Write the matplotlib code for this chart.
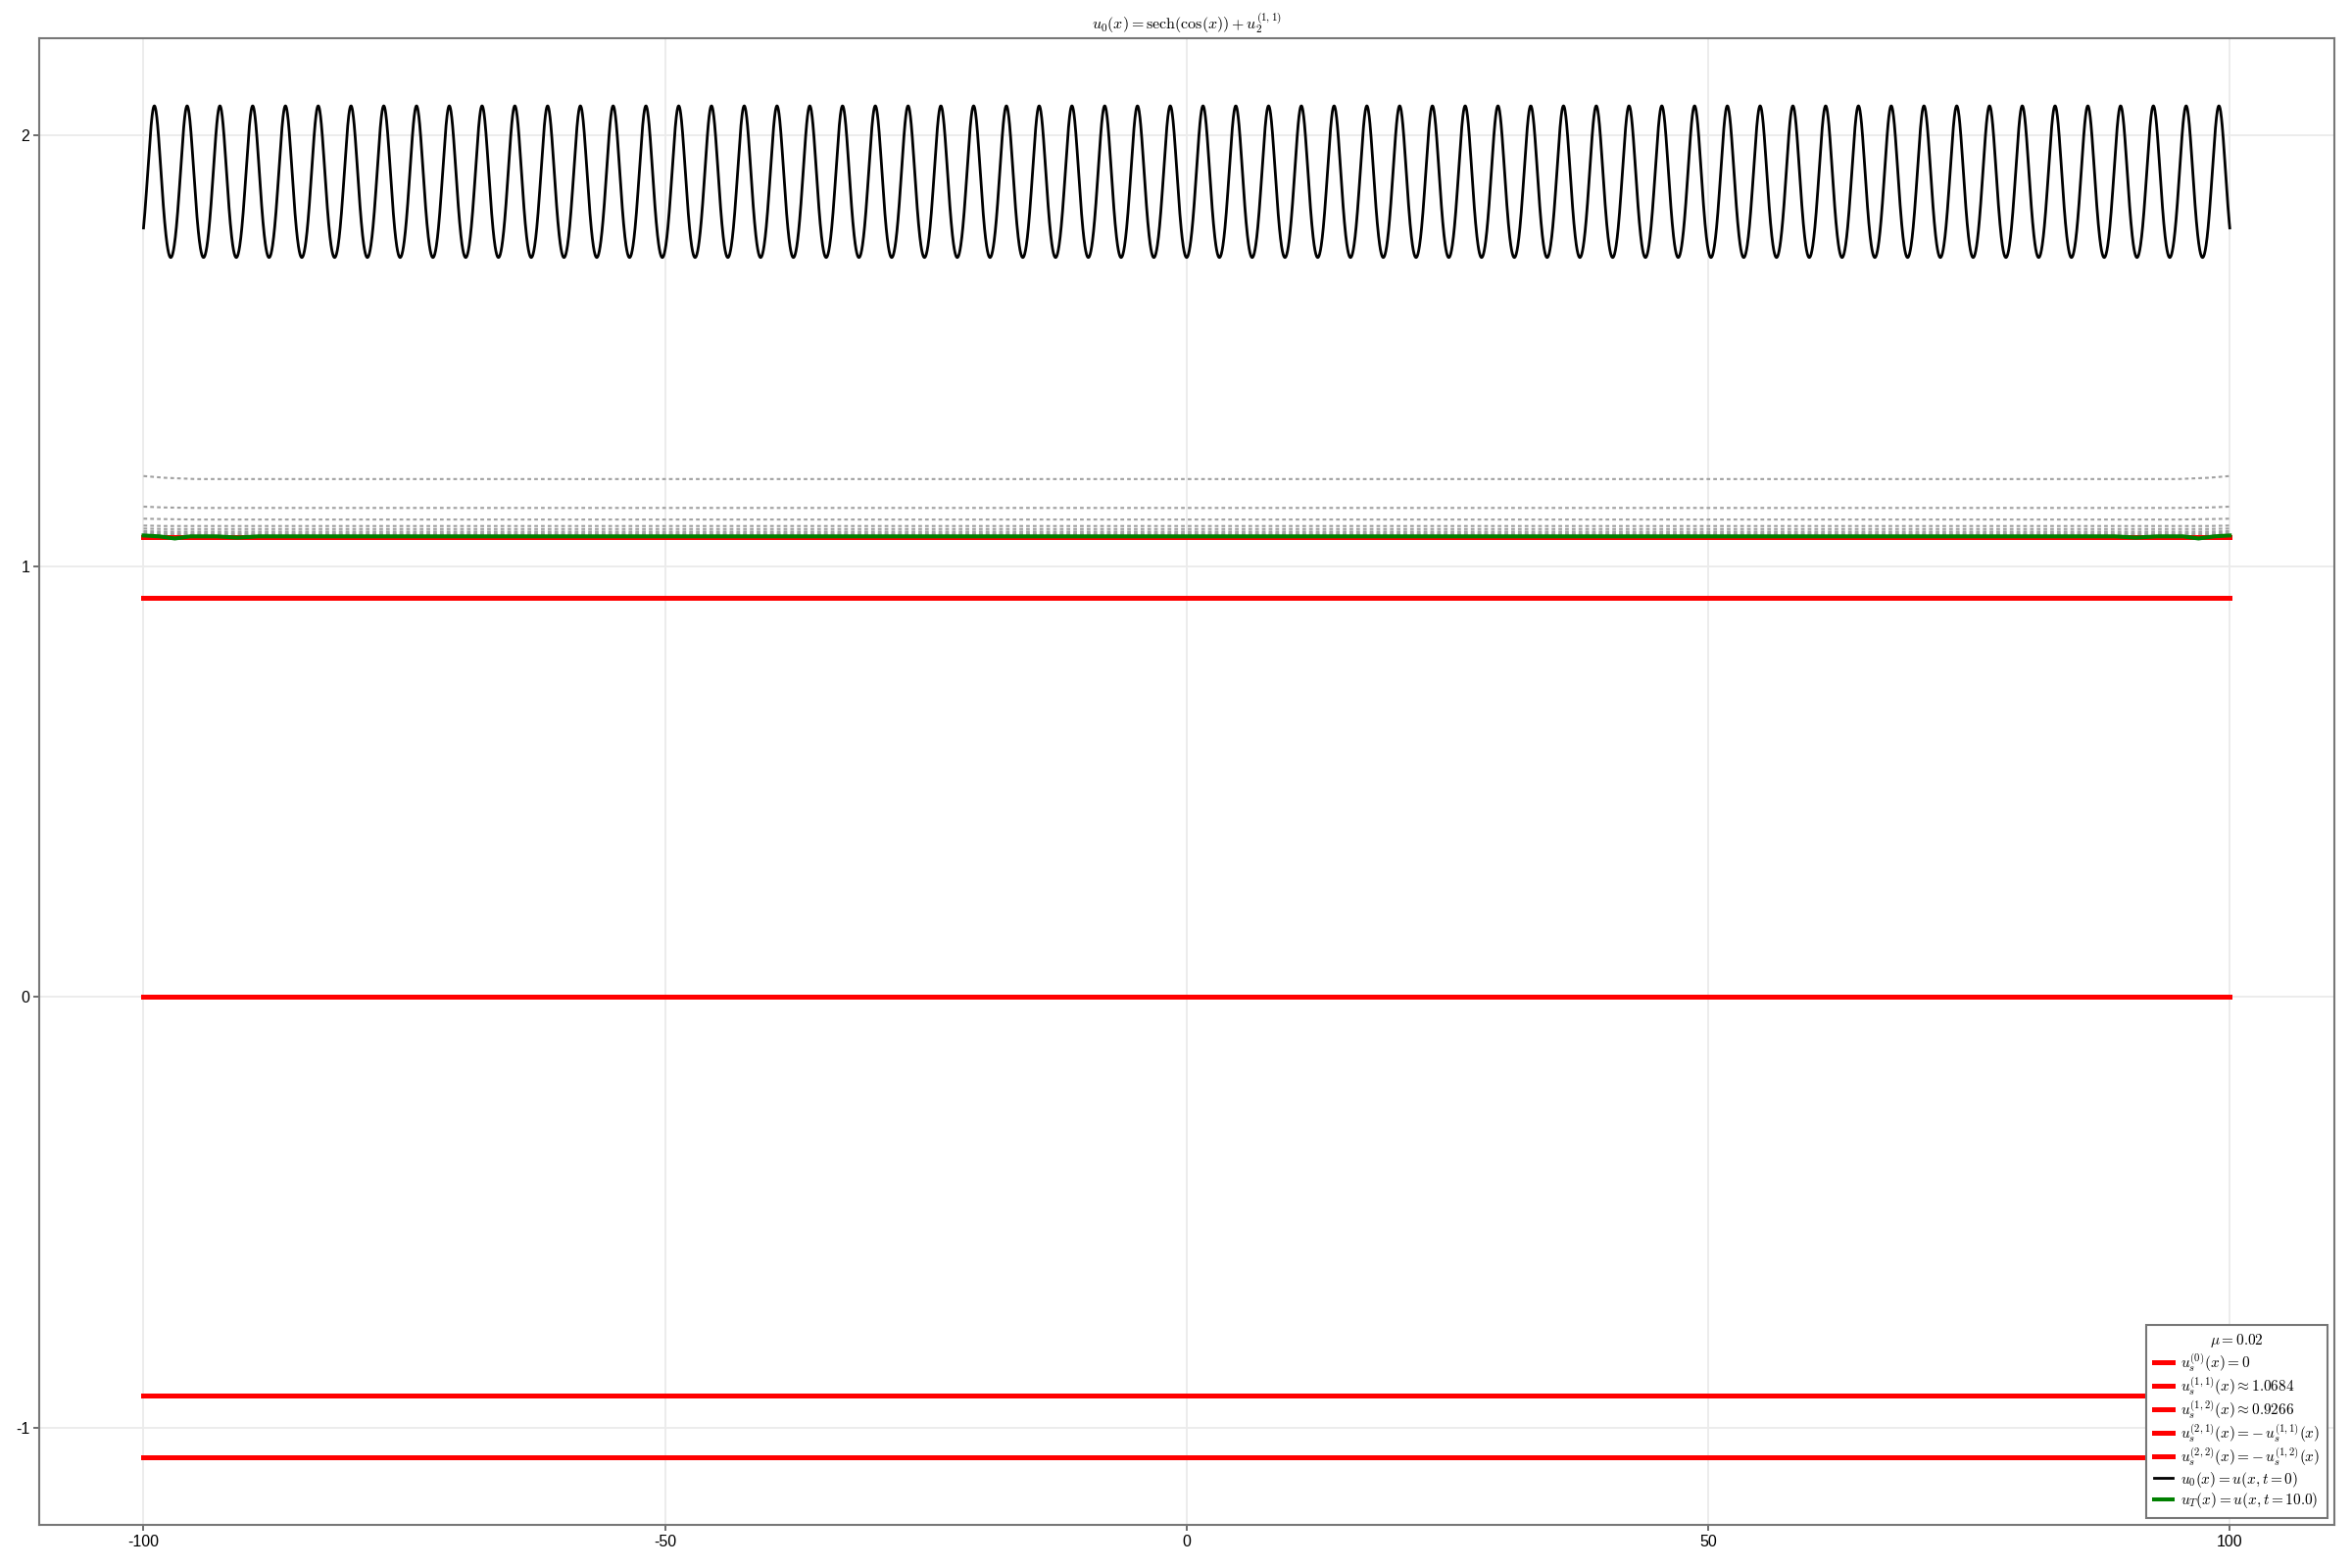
import numpy as np
import matplotlib
matplotlib.use("Agg")
import matplotlib.pyplot as plt

plt.rcParams["mathtext.fontset"] = "cm"
plt.rcParams["font.family"] = ["Liberation Sans", "DejaVu Sans"]
plt.rcParams["axes.unicode_minus"] = False

# stationary states (from the legend)
us_11 = 1.0684
us_12 = 0.9266
stationary = [0.0, us_11, us_12, -us_11, -us_12]
stationary_labels = [
    r"$u_s^{(0)}(x) = 0$",
    r"$u_s^{(1,1)}(x) \approx 1.0684$",
    r"$u_s^{(1,2)}(x) \approx 0.9266$",
    r"$u_s^{(2,1)}(x) = -\,u_s^{(1,1)}(x)$",
    r"$u_s^{(2,2)}(x) = -\,u_s^{(1,2)}(x)$",
]

# initial condition as given in the title: sech(cos(x)) + u^(1,1)
x = np.linspace(-100, 100, 8001)
u0 = 1.0 / np.cosh(np.cos(x)) + us_11

# intermediate snapshots (dotted)
snap_x = [-100, -98, -95, 95, 98, 100]
snap_levels = [
    [1.209, 1.205, 1.202, 1.202, 1.205, 1.209],
    [1.138, 1.136, 1.135, 1.135, 1.136, 1.138],
    [1.110, 1.109, 1.108, 1.108, 1.109, 1.110],
    [1.094, 1.093, 1.093, 1.093, 1.093, 1.094],
    [1.087, 1.086, 1.086, 1.086, 1.086, 1.087],
    [1.081, 1.080, 1.080, 1.080, 1.080, 1.081],
    [1.077, 1.076, 1.076, 1.076, 1.076, 1.077],
    [1.074, 1.073, 1.073, 1.073, 1.073, 1.074],
    [1.072, 1.071, 1.071, 1.071, 1.071, 1.072],
]

# final state u_T
uT_x = [-100, -98.5, -97, -95.5, -93, -91, -89, 89, 91, 93, 95.5, 97, 98.5, 100]
uT_y = [1.071, 1.069, 1.064, 1.069, 1.069, 1.066, 1.069,
        1.069, 1.066, 1.069, 1.069, 1.064, 1.069, 1.071]

fig = plt.figure(figsize=(24, 16), dpi=100)
ax = fig.add_axes([0.01667, 0.0275, 0.97571, 0.94831])

for lv in snap_levels:
    ax.plot(snap_x, lv, color="#a0a0a0", lw=1.5, ls=(0, (1.8, 1.5)), zorder=2)

for val, lab in zip(stationary, stationary_labels):
    ax.plot([-100, 100], [val, val], color="red", lw=3.6, label=lab, zorder=3)

ax.plot(x, u0, color="black", lw=2.0, label=r"$u_0(x) = u(x, t = 0)$", zorder=4)
ax.plot(uT_x, uT_y, color="green", lw=2.9, label=r"$u_T(x) = u(x, t = 10.0)$", zorder=5)

ax.set_xlim(-110, 110)
ax.set_ylim(-1.2262, 2.2262)
ax.set_xticks([-100, -50, 0, 50, 100])
ax.set_yticks([-1, 0, 1, 2])
ax.grid(True, color="#ebebeb", lw=1.3)
ax.set_axisbelow(True)
for sp in ax.spines.values():
    sp.set_color("#777777")
    sp.set_linewidth(1.5)
ax.tick_params(direction="out", length=4, width=1.2, color="#555555",
               labelsize=11.5, pad=3)

ax.set_title(r"$u_0(x) = \mathrm{sech}(\cos(x)) + u_2^{(1,1)}$", fontsize=11.5, pad=6)

leg = ax.legend(loc="lower right", title=r"$\mu = 0.02$", fontsize=11,
                title_fontsize=11, handlelength=1.3, handletextpad=0.5,
                labelspacing=0.12, borderpad=0.5, borderaxespad=0.45,
                fancybox=False, framealpha=1, edgecolor="#777777")
leg.get_frame().set_linewidth(1.5)

fig.savefig("out.png", dpi=100)
